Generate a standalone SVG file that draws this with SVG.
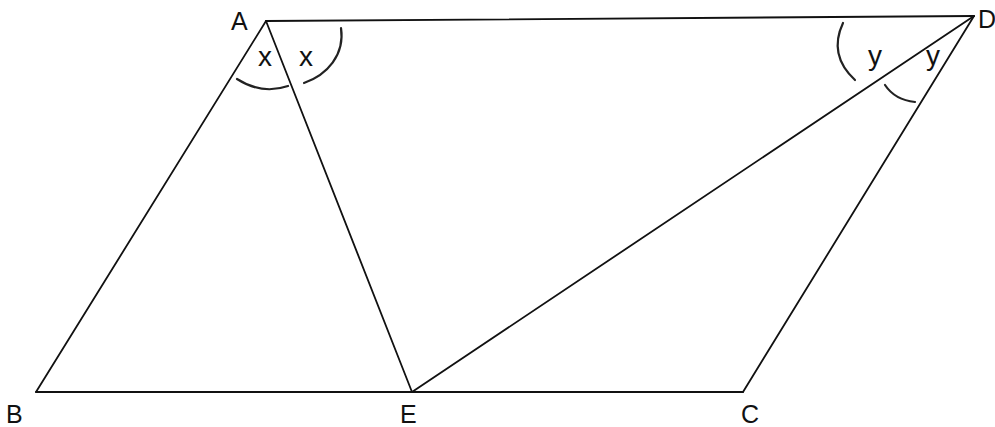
<svg xmlns="http://www.w3.org/2000/svg" width="995" height="427" viewBox="0 0 995 427">
<style>
.ln{stroke:#111;stroke-width:1.8;fill:none;stroke-linecap:round}
.arc{stroke:#222;stroke-width:2.2;fill:none;stroke-linecap:round}
.lb{font-family:"Liberation Sans",Arial,sans-serif;font-size:25px;fill:#111}
.ag{font-family:"Liberation Sans",Arial,sans-serif;font-size:28px;fill:#111}
</style>
<rect width="995" height="427" fill="#fff"/>
<g id="connectors">
<line class="ln" x1="266" y1="21" x2="974" y2="16"/>
<line class="ln" x1="266" y1="21" x2="36" y2="392"/>
<line class="ln" x1="266" y1="21" x2="412" y2="392"/>
<line class="ln" x1="36" y1="392" x2="743" y2="392"/>
<line class="ln" x1="974" y1="16" x2="412" y2="392"/>
<line class="ln" x1="974" y1="16" x2="743" y2="392"/>
</g>
<g id="A"><text class="lb" x="231" y="30">A</text></g>
<g id="B"><text class="lb" x="6" y="423">B</text></g>
<g id="E"><text class="lb" x="400" y="423">E</text></g>
<g id="C"><text class="lb" x="741" y="423">C</text></g>
<g id="D"><text class="lb" x="978" y="28">D</text></g>
<g id="angle-A">
<path class="arc" d="M237,79 Q262,95 288,86"/>
<path class="arc" d="M304,83 C327,75 345,55 341,28"/>
<text class="ag" x="258" y="66">x</text>
<text class="ag" x="299" y="66">x</text>
</g>
<g id="angle-D">
<path class="arc" d="M843,23 Q828,55 855,80"/>
<path class="arc" d="M885,85 Q895,100 915,102"/>
<text class="ag" x="868" y="65">y</text>
<text class="ag" x="926" y="65">y</text>
</g>
</svg>
